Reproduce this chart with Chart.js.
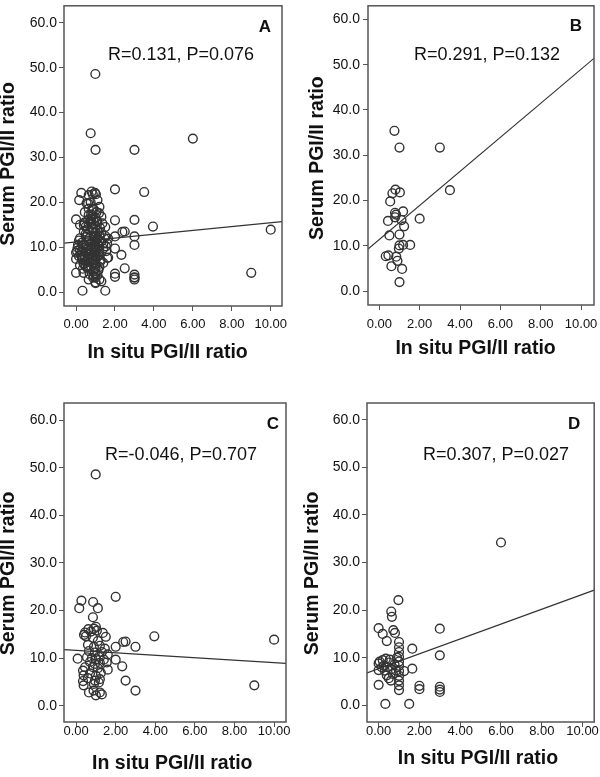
<!DOCTYPE html>
<html>
<head>
<meta charset="utf-8">
<title>Serum vs in situ PGI/II ratio</title>
<script src="https://cdn.jsdelivr.net/npm/chart.js@4.4.0/dist/chart.umd.min.js"></script>
<style>
    body { margin: 0; background: #fff; }
    #wrap { position: relative; width: 600px; height: 777px; }
    #wrap canvas { position: absolute; }
</style>
</head>
<body>
<div id="wrap">
    <canvas id="chartA" width="300" height="390" style="left:0;top:0"></canvas>
    <canvas id="chartB" width="300" height="390" style="left:300px;top:0"></canvas>
    <canvas id="chartC" width="300" height="387" style="left:0;top:390px"></canvas>
    <canvas id="chartD" width="300" height="387" style="left:300px;top:390px"></canvas>
</div>
<script>
// Points: [in situ PGI/II ratio, serum PGI/II ratio]
const groupB = [
    [0.75,35.4],[1.0,31.7],[3.0,31.7],[3.5,22.3],[0.8,22.4],[0.65,21.6],[1.02,21.8],[0.54,19.8],
    [0.78,17.3],[0.83,16.9],[1.18,17.6],[0.78,16.3],[0.43,15.5],[1.1,15.7],[1.23,14.3],[2.0,16.0],
    [0.5,12.3],[1.0,12.5],[1.53,10.2],[1.0,10.1],[1.18,10.2],[0.97,9.4],[0.32,7.7],[0.45,7.9],
    [0.84,7.6],[0.9,6.7],[0.6,5.5],[1.13,4.9],[1.0,2.0]
];

const groupC = [
    [0.99,48.6],[2.0,22.9],[0.27,22.1],[0.16,20.5],[0.86,21.8],[1.1,20.5],[0.85,18.6],[3.95,14.6],
    [10.0,13.9],[9.0,4.3],[3.0,12.4],[2.5,13.5],[2.38,13.4],[2.0,12.4],[2.0,9.7],[2.33,8.3],
    [2.5,5.3],[3.0,3.2],[0.08,9.9],
    [0.45,15.4],[0.5,14.6],[0.4,14.9],[0.62,16.1],[0.75,15.6],[0.9,16.2],[1.0,16.6],[1.05,15.8],
    [1.35,15.3],[1.5,14.5],[0.85,14.3],[1.1,13.6],[0.6,12.8],[0.9,12.4],[1.2,12.6],[1.45,12.0],
    [0.65,11.5],[0.95,11.2],[1.3,11.3],[1.6,10.8],[0.55,10.2],[0.8,10.0],[1.0,9.8],[1.15,10.3],
    [1.4,9.7],[0.7,9.2],[0.95,8.8],[1.2,9.0],[1.55,9.1],[0.45,8.1],[0.35,7.4],[0.85,8.1],
    [1.1,7.9],[1.6,7.6],[0.38,6.4],[0.7,6.8],[1.0,6.3],[1.25,6.9],[0.35,5.2],[0.6,5.8],
    [0.95,5.3],[1.2,5.6],[0.38,4.3],[0.9,4.6],[1.15,4.9],[0.65,2.8],[0.88,3.2],[1.0,2.2],
    [1.2,2.8],[1.3,2.4]
];

const groupD = [
    [6.0,34.2],[0.97,22.1],[0.62,19.7],[0.65,18.6],[0.0,16.2],[0.2,15.0],[0.4,13.5],[0.72,15.8],
    [0.8,15.2],[3.0,16.1],[1.65,11.9],[3.0,10.5],[1.65,7.7],
    [1.0,13.3],[1.0,12.2],[1.0,11.2],[1.0,10.2],[1.0,9.2],[1.0,8.3],[1.0,7.2],[1.0,6.2],
    [1.0,5.2],[1.0,4.2],[1.0,3.2],
    [2.0,4.1],[2.0,3.4],[3.0,3.9],[3.0,3.3],[3.0,2.8],[0.33,0.3],[1.5,0.3],[0.0,4.3],
    [0.0,7.4],[0.0,8.8],[0.05,9.2],
    [0.2,9.5],[0.35,9.8],[0.5,9.0],[0.25,8.3],[0.45,8.0],[0.62,7.6],[0.4,6.3],[0.5,5.7],
    [0.6,5.2],[0.7,6.6],[0.78,8.6],[1.25,7.2],[0.85,7.3],[0.3,7.3],[0.15,8.0],[0.55,9.6],
    [0.9,10.0]
];

// panel A pools every patient; these are the extra circles only seen in A's dense cluster
const pooledOnly = [
    [0.1,10.5],[0.2,12.0],[0.3,11.0],[0.4,10.6],[0.5,13.0],[0.6,14.0],[0.7,12.0],[0.8,11.0],
    [0.9,13.5],[1.0,14.8],[1.1,12.0],[1.2,11.5],[1.3,13.2],[1.4,10.8],[1.5,12.5],[0.3,9.0],
    [0.6,8.5],[0.8,9.5],[1.0,8.0],[1.2,8.4],[1.4,6.5],[0.5,6.8],[0.7,4.0],[0.9,3.5],
    [1.1,3.8],[0.2,6.0],[0.15,11.5],[0.65,17.2],[0.9,18.5],[1.05,17.8],[1.3,16.8],[0.45,17.8],
    [1.2,19.0],[0.75,20.0]
];

// Fit lines as drawn, endpoints at the frame edges
const fitA = [[-0.62,10.9],[10.58,15.7]];
const fitB = [[-0.56,9.3],[10.64,51.4]];
const fitC = [[-0.61,11.8],[10.6,8.9]];
const fitD = [[-0.57,6.8],[10.57,24.2]];

const statA = 'R=0.131, P=0.076';
const statB = 'R=0.291, P=0.132';
const statC = 'R=-0.046, P=0.707';
const statD = 'R=0.307, P=0.027';

const xTicks = [0, 2, 4, 6, 8, 10];
const yTicks = [0, 10, 20, 30, 40, 50, 60];
const xTitle = 'In situ PGI/II ratio';
const yTitle = 'Serum PGI/II ratio';

const FONT = '"Liberation Sans", Arial, sans-serif';

// Frame box plus panel letter and correlation text
const panelDecor = {
    id: 'panelDecor',
    afterDraw(chart, args, opts) {
        const { ctx, chartArea: a } = chart;
        ctx.save();
        ctx.strokeStyle = '#555';
        ctx.lineWidth = 1.5;
        ctx.strokeRect(a.left, a.top, a.right - a.left, a.bottom - a.top);
        ctx.fillStyle = '#111';
        ctx.textAlign = 'center';
        ctx.textBaseline = 'middle';
        ctx.font = 'bold 17px ' + FONT;
        ctx.fillText(opts.letter, a.right - opts.letterDx, a.top + opts.letterDy);
        ctx.font = '18px ' + FONT;
        ctx.fillText(opts.stat, a.left + opts.statDx, a.top + opts.statDy);
        ctx.restore();
    }
};

const panels = [
    { id: 'chartA', letter: 'A', stat: statA, points: [...groupB, ...groupC, ...groupD, ...pooledOnly], fit: fitA,
      x: [-0.62, 10.58], y: [-3.1, 63.8], pad: { left: 0, right: 18, top: 3, bottom: 0 }, yw: 64, xh: 84,
      xTickPad: 6, yTickPad: 2, xTitlePad: 28, yTitlePad: -1, xNudge: 2, yNudge: 3,
      letterDx: 17, letterDy: 22, statDx: 117, statDy: 49 },
    { id: 'chartB', letter: 'B', stat: statB, points: groupB, fit: fitB,
      x: [-0.56, 10.64], y: [-3.06, 63.0], pad: { left: 0, right: 6, top: 3, bottom: 0 }, yw: 68, xh: 85,
      xTickPad: 7, yTickPad: 3, xTitlePad: 32, yTitlePad: 8, xNudge: 2, yNudge: 1,
      letterDx: 18, letterDy: 21, statDx: 119, statDy: 49 },
    { id: 'chartC', letter: 'C', stat: statC, points: groupC, fit: fitC,
      x: [-0.61, 10.6], y: [-3.4, 63.6], pad: { left: 0, right: 14, top: 13, bottom: 0 }, yw: 64, xh: 55,
      xTickPad: -3, yTickPad: 2, xTitlePad: 4, yTitlePad: -1, xNudge: 1, yNudge: 4,
      letterDx: 13, letterDy: 21, statDx: 117, statDy: 52 },
    { id: 'chartD', letter: 'D', stat: statD, points: groupD, fit: fitD,
      x: [-0.57, 10.57], y: [-3.5, 63.5], pad: { left: 0, right: 5, top: 13, bottom: 0 }, yw: 67, xh: 55,
      xTickPad: -3, yTickPad: 2, xTitlePad: 9, yTitlePad: 3, xNudge: 1, yNudge: 4,
      letterDx: 20, letterDy: 21, statDx: 129, statDy: 52 }
];

function toXY(pairs) {
    return pairs.map(p => ({ x: p[0], y: p[1] }));
}

function drawPanel(p) {
    new Chart(document.getElementById(p.id), {
        type: 'scatter',
        data: {
            datasets: [
                {
                    data: toXY(p.points),
                    pointRadius: 4.4,
                    pointHoverRadius: 4.4,
                    pointBorderWidth: 1.4,
                    borderColor: '#333',
                    backgroundColor: 'rgba(0,0,0,0)'
                },
                {
                    data: toXY(p.fit),
                    showLine: true,
                    borderColor: '#333',
                    borderWidth: 1.2,
                    pointRadius: 0,
                    fill: false
                }
            ]
        },
        options: {
            responsive: false,
            animation: false,
            devicePixelRatio: 1,
            events: [],
            layout: { padding: p.pad },
            plugins: {
                legend: { display: false },
                tooltip: { enabled: false },
                panelDecor: { letter: p.letter, stat: p.stat, letterDx: p.letterDx, letterDy: p.letterDy, statDx: p.statDx, statDy: p.statDy }
            },
            scales: {
                x: {
                    type: 'linear',
                    min: p.x[0],
                    max: p.x[1],
                    afterBuildTicks: s => { s.ticks = xTicks.map(v => ({ value: v })); },
                    // fixed box size, and no extra room reserved for edge labels
                    afterFit: s => { s.height = p.xh; s.paddingLeft = 0; s.paddingRight = 0; },
                    grid: { display: true, drawOnChartArea: false, drawTicks: true, tickLength: 5, color: '#555' },
                    border: { display: false },
                    ticks: {
                        autoSkip: false, maxRotation: 0, padding: p.xTickPad, color: '#111',
                        font: { family: FONT, size: 13 },
                        callback: v => Number(v).toFixed(2)
                    },
                    title: {
                        display: true, text: xTitle + ' '.repeat(p.xNudge), color: '#111',
                        font: { family: FONT, size: 19.5, weight: 'bold', lineHeight: 1 },
                        padding: { top: 0, bottom: p.xTitlePad }
                    }
                },
                y: {
                    type: 'linear',
                    min: p.y[0],
                    max: p.y[1],
                    afterBuildTicks: s => { s.ticks = yTicks.map(v => ({ value: v })); },
                    afterFit: s => { s.width = p.yw; s.paddingTop = 0; s.paddingBottom = 0; },
                    grid: { display: true, drawOnChartArea: false, drawTicks: true, tickLength: 5, color: '#555' },
                    border: { display: false },
                    ticks: {
                        padding: p.yTickPad, color: '#111',
                        font: { family: FONT, size: 14 },
                        callback: v => Number(v).toFixed(1)
                    },
                    title: {
                        display: true, text: yTitle + ' '.repeat(p.yNudge), color: '#111',
                        font: { family: FONT, size: 19.5, weight: 'bold', lineHeight: 1 },
                        padding: { top: p.yTitlePad, bottom: 0 }
                    }
                }
            }
        },
        plugins: [panelDecor]
    });
}

panels.forEach(drawPanel);
</script>
</body>
</html>
